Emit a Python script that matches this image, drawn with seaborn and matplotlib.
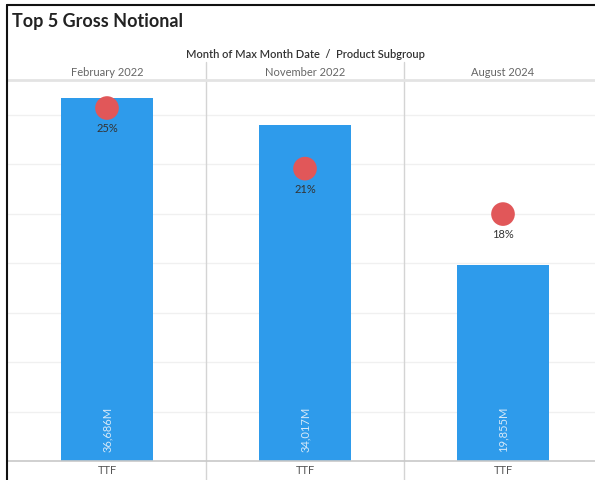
import matplotlib
matplotlib.use("Agg")
import matplotlib.pyplot as plt
import seaborn as sns
import pandas as pd
import numpy as np
from matplotlib.lines import Line2D
import matplotlib.transforms as mtransforms

months = ["February 2022", "November 2022", "August 2024"]
subgroup = ["TTF", "TTF", "TTF"]
gross_notional_m = [36686, 34017, 19855]
share_pct = [25, 21, 18]
grid_step = 5000

sns.set_theme(style="white")
plt.rcParams["font.family"] = ["Lato", "DejaVu Sans"]

W, H = 595, 480
fig = plt.figure(figsize=(W / 100, H / 100), dpi=100)

# axes pixel box
x0, x1 = 8, 595
ytop, ybot = 80, 461
panel_px = 198
ax = fig.add_axes([x0 / W, 1 - ybot / H, (x1 - x0) / W, (ybot - ytop) / H])
ax2 = ax.twinx()

df = pd.DataFrame({"month": months, "sub": subgroup, "val": gross_notional_m, "pct": share_pct})
sns.barplot(data=df, x="month", y="val", color="#2E9BEB", saturation=1, width=0.465,
            ax=ax, zorder=2)
for p in ax.patches:
    p.set_edgecolor("none")

ax.set_xlim(-0.5, -0.5 + (x1 - x0) / panel_px)
ax.set_ylim(0, 38520)
ax.grid(False)
ax.set_yticks([])
gtrans = mtransforms.blended_transform_factory(ax.transAxes, ax.transData)
for g in np.arange(grid_step, 38000, grid_step):
    ax.plot([0, 1], [g, g], transform=gtrans, color="#f0f0f0", linewidth=1, zorder=0)
ax.set_xticks(range(len(months)))
ax.set_xticklabels(subgroup, fontsize=8, color="#555555")
ax.set_xlabel("")
ax.set_ylabel("")
for s in ["left", "right"]:
    ax.spines[s].set_visible(False)
ax.spines["bottom"].set_color("#c8c8c8")
ax.spines["bottom"].set_linewidth(1.2)
ax.spines["top"].set_color("#e3e3e3")
ax.spines["top"].set_linewidth(2)

# value labels inside bars
for i, v in enumerate(gross_notional_m):
    ax.text(i, 900, f"{v:,}M", rotation=90, ha="center", va="bottom",
            fontsize=8, color="#d6e9f8", zorder=4)

# separators between panels
trans = mtransforms.blended_transform_factory(ax.transData, ax.transAxes)
for xs in [0.5, 1.5]:
    ax.plot([xs, xs], [-0.06, (ybot - 62) / (ybot - ytop)], transform=trans,
            color="#d4d4d4", linewidth=1, clip_on=False, zorder=1)

# secondary axis for percentages
sns.scatterplot(x=np.arange(len(months)), y=share_pct, ax=ax2, s=290, color="#E15759",
                edgecolor="none", zorder=5, legend=False)
ax2.set_ylim(1.7, 26.85)
ax2.set_xlim(ax.get_xlim())
ax2.axis("off")
for i, p in enumerate(share_pct):
    ax2.annotate(f"{p}%", (i, p), xytext=(0, -15), textcoords="offset points",
                 ha="center", va="center", fontsize=8, color="#333333", zorder=6)

ax.tick_params(axis="x", which="both", bottom=False, top=False, length=0, pad=3)

# column headers and super-header
for i, m in enumerate(months):
    xf = (x0 + (i + 0.5) * panel_px) / W
    fig.text(xf, 1 - 72 / H, m, ha="center", va="center", fontsize=8, color="#666666")
fig.text(305 / W, 1 - 54 / H, "Month of Max Month Date  /  Product Subgroup", ha="center",
         va="center", fontsize=8, color="#333333", fontweight="semibold")
fig.text(12 / W, 1 - 22 / H, "Top 5 Gross Notional", ha="left", va="center",
         fontsize=13, color="#222222", fontweight="bold")

# outer frame lines
fig.add_artist(Line2D([7 / W, 1], [1 - 5 / H, 1 - 5 / H], color="#111111", linewidth=1.5))
fig.add_artist(Line2D([7 / W, 7 / W], [0, 1 - 5 / H], color="#111111", linewidth=1.5))

fig.savefig("out.png", dpi=100)
